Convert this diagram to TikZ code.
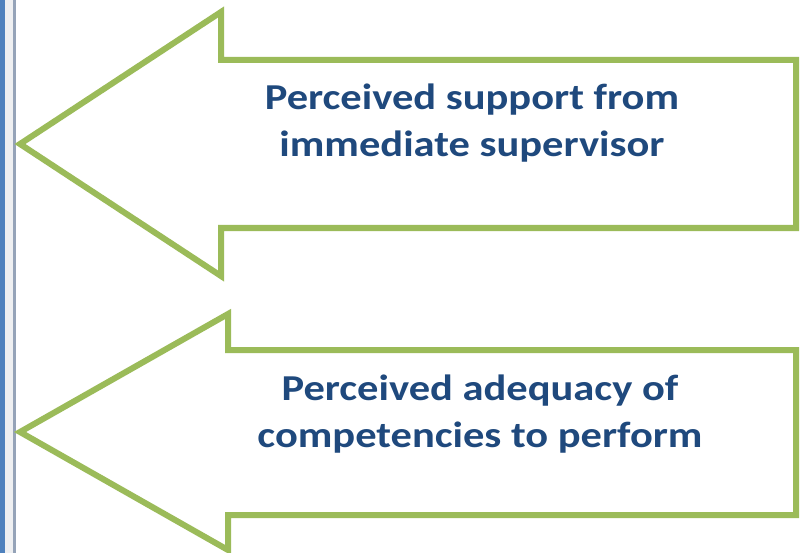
\documentclass[tikz,border=0pt]{standalone}
\usepackage{fontspec}
\setmainfont[FakeStretch=1.165]{Carlito}
\definecolor{arrowgreen}{HTML}{9BBB59}
\definecolor{textblue}{HTML}{1F497D}
\definecolor{barblue}{HTML}{4F81BD}
\definecolor{barpale}{HTML}{EEEFF1}
\definecolor{bargray}{HTML}{95A3B8}
\begin{document}
\begin{tikzpicture}[x=1pt,y=-1pt,
  arrowshape/.style={draw=arrowgreen,fill=white,line width=6pt,miter limit=10},
  label/.style={text=textblue,font=\bfseries\fontsize{36.5}{47.5}\selectfont,align=center,inner sep=0pt}]
  \useasboundingbox (0,0) rectangle (802,553);
  % left margin bars
  \fill[barblue] (0,0) rectangle (5,553);
  \fill[barpale] (5,0) rectangle (13,553);
  \fill[bargray] (13,0) rectangle (16,553);
  % upper left-pointing arrow
  \draw[arrowshape] (221,60) -- (221,12) -- (20,144) -- (221,276) -- (221,228)
        -- (796,228) -- (796,60) -- cycle;
  % lower left-pointing arrow
  \draw[arrowshape] (228,350) -- (228,314) -- (20,432) -- (228,550) -- (228,515)
        -- (796,515) -- (796,350) -- cycle;
  \node[label] (support) at (472,123) {Perceived support from\\immediate supervisor};
  \node[label] (adequacy) at (480,414) {Perceived adequacy of\\competencies to perform};
\end{tikzpicture}
\end{document}
